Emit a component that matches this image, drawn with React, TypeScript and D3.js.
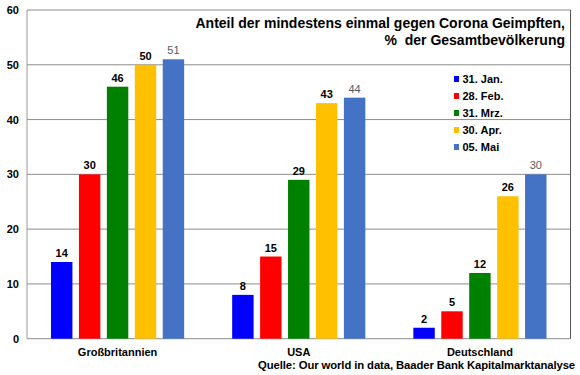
import React from "react";
import * as d3 from "d3";

const categories = ["Großbritannien", "USA", "Deutschland"];
const seriesNames = ["31. Jan.", "28. Feb.", "31. Mrz.", "30. Apr.", "05. Mai"];
const jan = [14, 8, 2];
const feb = [30, 15, 5];
const mrz = [46, 29, 12];
const apr = [50, 43, 26];
const mai = [51, 44, 30];
const yTicks = [0, 10, 20, 30, 40, 50, 60];
const colors = ["#0000FF", "#FF0000", "#008000", "#FFC000", "#4472C4"];
const titleLines = ["Anteil der mindestens einmal gegen Corona Geimpften,", "%  der Gesamtbevölkerung"];
const source = "Quelle: Our world in data, Baader Bank Kapitalmarktanalyse";

const seriesValues = [jan, feb, mrz, apr, mai];

export default function App() {
  const W = 580, H = 375;
  const left = 27, right = 570.5, top = 10, bottom = 338.7;
  const y = d3.scaleLinear().domain([0, 60]).range([bottom, top]);
  const x0 = d3.scaleBand<string>().domain(categories).range([left, right]);
  const bw0 = x0.bandwidth();
  const span = bw0 * 0.735;
  const off = (bw0 - span) / 2;
  const x1 = d3.scaleBand<string>().domain(seriesNames).range([off, off + span]).paddingInner(0.233).paddingOuter(0);
  const font = "'Liberation Sans', Arial, sans-serif";

  return (
    <svg width={W} height={H} style={{ position: "absolute", left: 0, top: 0, background: "#fff" }} fontFamily={font}>
      <rect x={0} y={0} width={W} height={H} fill="#fff" />
      {yTicks.map((t) => (
        <g key={t}>
          <line x1={left} x2={right} y1={y(t)} y2={y(t)} stroke="#8c8c8c" strokeWidth={1} />
          <text x={19} y={y(t) + 4} textAnchor="end" fontSize={11} fontWeight="bold" fill="#000">{t}</text>
        </g>
      ))}
      <line x1={left} x2={left} y1={top} y2={bottom} stroke="#9a9a9a" strokeWidth={1} />
      <line x1={right} x2={right} y1={top} y2={bottom} stroke="#555" strokeWidth={1} />
      {categories.map((c, ci) => (
        <g key={c}>
          {seriesNames.map((s, si) => {
            const v = seriesValues[si][ci];
            const bx = (x0(c) as number) + (x1(s) as number);
            const isLast = si === seriesNames.length - 1;
            return (
              <g key={s}>
                <rect x={bx} y={y(v)} width={x1.bandwidth()} height={bottom - y(v)} fill={colors[si]} />
                <text x={bx + x1.bandwidth() / 2} y={y(v) - 5} textAnchor="middle" fontSize={11}
                  fontWeight={isLast ? "normal" : "bold"} fill={isLast ? "#595959" : "#000"}>{v}</text>
              </g>
            );
          })}
          <text x={(x0(c) as number) + bw0 / 2} y={355.5} textAnchor="middle" fontSize={11} fontWeight="bold" fill="#000">{c}</text>
        </g>
      ))}
      {titleLines.map((l, i) => (
        <text key={i} x={565} y={28 + i * 17} textAnchor="end" fontSize={14} fontWeight="bold" fill="#000" style={{ whiteSpace: "pre" }}>{l}</text>
      ))}
      {seriesNames.map((s, i) => (
        <g key={s}>
          <rect x={454} y={76 + i * 17} width={5} height={6} fill={colors[i]} />
          <text x={462.5} y={83 + i * 17} fontSize={11} fontWeight="bold" fill="#000">{s}</text>
        </g>
      ))}
      <text x={575} y={369} textAnchor="end" fontSize={11.3} fontWeight="bold" letterSpacing={-0.1} fill="#000">{source}</text>
    </svg>
  );
}
